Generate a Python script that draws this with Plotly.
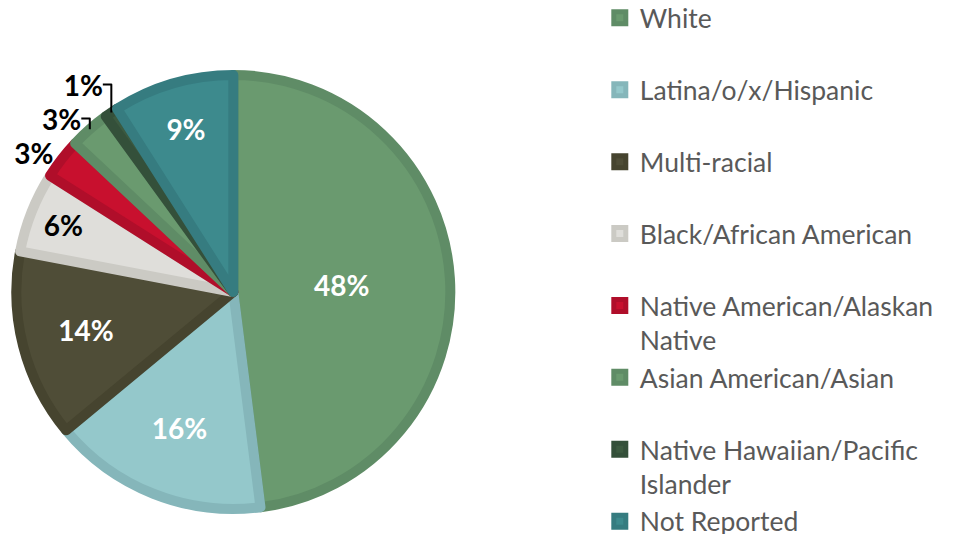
import plotly.graph_objects as go

categories = ["White", "Latina/o/x/Hispanic", "Multi-racial", "Black/African American",
              "Native American/Alaskan Native", "Asian American/Asian",
              "Native Hawaiian/Pacific Islander", "Not Reported"]
legend_labels = ["White<br>&nbsp;", "Latina/o/x/Hispanic<br>&nbsp;", "Multi-racial<br>&nbsp;",
                 "Black/African American<br>&nbsp;", "Native American/Alaskan<br>Native",
                 "Asian American/Asian<br>&nbsp;", "Native Hawaiian/Pacific<br>Islander",
                 "Not Reported"]
values = [48, 16, 14, 6, 3, 3, 1, 9]

fill_colors = ["#6a9a6f", "#94c8cb", "#4f4d37", "#dfdeda", "#c8102e", "#6a9a6f", "#3c5a40", "#3d8a8d"]
edge_colors = ["#5f8c66", "#85b6ba", "#46442f", "#cbcac4", "#b00e2a", "#5f8c66", "#34503a", "#367c80"]
text_colors = ["white", "white", "white", "black", "black", "black", "black", "white"]
text_pos = ["inside", "inside", "inside", "inside", "outside", "outside", "outside", "inside"]

fig = go.Figure(go.Pie(
    labels=legend_labels,
    values=values,
    sort=False,
    direction="clockwise",
    rotation=0,
    marker=dict(colors=fill_colors, line=dict(color=edge_colors, width=10)),
    texttemplate="%{value}%",
    textposition=text_pos,
    insidetextorientation="horizontal",
    textfont=dict(family="Lato", size=28, color=text_colors, weight="bold"),
    outsidetextfont=dict(family="Lato", size=28, color="black", weight="bold"),
    domain=dict(x=[0.0, 0.466], y=[0.0618, 0.8746]),
    hoverinfo="skip",
))

fig.update_layout(
    width=967, height=534,
    margin=dict(l=0, r=0, t=0, b=0, autoexpand=False),
    paper_bgcolor="white", plot_bgcolor="white",
    showlegend=True,
    legend=dict(x=0.612, y=1.026, xanchor="left", yanchor="top",
                valign="top", font=dict(family="Lato", size=26.5, color="#595959"),
                maxheight=800, bgcolor="rgba(0,0,0,0)"),
)

fig.write_html("out.html")
